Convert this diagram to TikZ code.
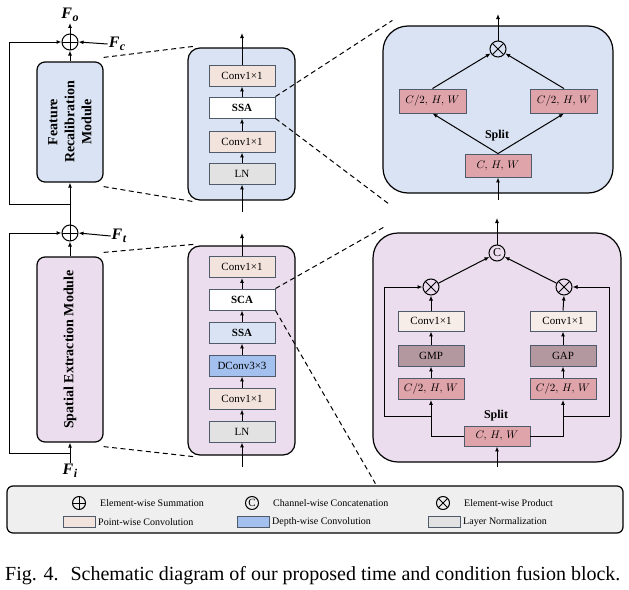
\documentclass[tikz,border=0pt]{standalone}
\usepackage{fontspec}
\setmainfont{Liberation Serif}
\usetikzlibrary{arrows.meta,calc}
\definecolor{topblue}{HTML}{DAE3F3}
\definecolor{lilac}{HTML}{EBDDED}
\definecolor{peach}{HTML}{F2E3DD}
\definecolor{peachl}{HTML}{F6ECE8}
\definecolor{lngray}{HTML}{E2E2E2}
\definecolor{dblue}{HTML}{A3C0EE}
\definecolor{redbox}{HTML}{DFA3AA}
\definecolor{mauve}{HTML}{B4989F}
\definecolor{slate}{HTML}{4F5B6B}
\definecolor{legfill}{HTML}{EFEFEF}
\tikzset{
  bigbox/.style={draw=black, line width=1.2pt, rounded corners=12pt, inner sep=0pt},
  inbox/.style={draw=slate, line width=0.9pt, minimum width=66pt, minimum height=21pt, inner sep=0pt, font=\fontsize{11}{12}\selectfont},
  bbold/.style={inbox, font=\fontsize{11}{12}\selectfont\bfseries},
  redb/.style={inbox, fill=redbox, font=\fontsize{10.5}{12}\selectfont},
  arr/.style={line width=1pt, -{Latex[length=5pt,width=4pt]}},
  ln/.style={line width=1pt},
  dashln/.style={line width=1pt, dash pattern=on 5pt off 3.5pt},
  opl/.style={circle, draw, line width=1pt, minimum size=16pt, inner sep=0pt,
    path picture={\draw[line width=1pt] (path picture bounding box.north) -- (path picture bounding box.south)
      (path picture bounding box.west) -- (path picture bounding box.east);}},
  otm/.style={circle, draw, line width=1pt, minimum size=16pt, inner sep=0pt,
    path picture={\draw[line width=1pt] ([shift={(45:8pt)}]path picture bounding box.center) -- ([shift={(225:8pt)}]path picture bounding box.center)
      ([shift={(135:8pt)}]path picture bounding box.center) -- ([shift={(315:8pt)}]path picture bounding box.center);}},
  cat/.style={circle, draw, line width=1pt, minimum size=16pt, inner sep=0pt, font=\fontsize{12}{12}\selectfont},
  flab/.style={font=\fontsize{16}{16}\selectfont\bfseries\itshape, inner sep=1pt},
  legt/.style={anchor=west, inner sep=0pt, font=\fontsize{10}{12}\selectfont},
  sw/.style={draw=slate, line width=0.9pt, minimum width=32pt, minimum height=11pt, inner sep=0pt},
}
\begin{document}
\begin{tikzpicture}[x=1pt,y=-1pt]
\useasboundingbox (0,0) rectangle (629,589);

% ---------------- left column ----------------
\node[flab] (fo) at (70,15) {F\kern0.5pt\raisebox{-3pt}{\fontsize{12}{12}\selectfont o}};
\node[opl] (o1) at (70,42) {};
\node[flab] (fc) at (117,44) {F\kern0.5pt\raisebox{-3pt}{\fontsize{12}{12}\selectfont c}};
\node[bigbox, rounded corners=8pt, fill=topblue, minimum width=66pt, minimum height=120pt] (frm) at (70,122) {};
\node[rotate=90, align=center, font=\fontsize{14}{17}\selectfont\bfseries] (frmt) at (70,122) {Feature\\Recalibration\\Module};
\node[opl] (o2) at (70,233) {};
\node[flab] (ft) at (119,236) {F\kern0.5pt\raisebox{-3pt}{\fontsize{12}{12}\selectfont t}};
\node[bigbox, rounded corners=8pt, fill=lilac, minimum width=66pt, minimum height=185pt] (sem) at (70,349.5) {};
\node[rotate=90, font=\fontsize{14}{17}\selectfont\bfseries] (semt) at (70,349.5) {Spatial Extraction Module};
\node[flab] (fi) at (70,471) {F\kern0.5pt\raisebox{-3pt}{\fontsize{12}{12}\selectfont i}};

\coordinate (j1) at (70,204);
\coordinate (l1) at (9,204);
\coordinate (j2) at (70,453);
\coordinate (l2) at (9,453);

\draw[arr] (frm.north) -- (o1.south);
\draw[arr] (o1.north) -- (fo.south);
\draw[arr] (fc.west) -- (o1.east);
\draw[arr] (o2.north) -- (frm.south);
\draw[arr] (j1) -- (l1) |- (o1.west);
\draw[arr] (sem.north) -- (o2.south);
\draw[arr] (ft.west) -- (o2.east);
\draw[arr] (fi.north) -- (sem.south);
\draw[arr] (j2) -- (l2) |- (o2.west);

% ---------------- middle top ----------------
\node[bigbox, fill=topblue, minimum width=107pt, minimum height=152pt] (mt) at (241.5,124) {};
\node[inbox, fill=peach] (t4) at (242,75.5) {Conv1×1};
\node[bbold, fill=white] (t3) at (242,107.5) {SSA};
\node[inbox, fill=peach] (t2) at (242,141.5) {Conv1×1};
\node[inbox, fill=lngray] (t1) at (242,173.5) {LN};
\coordinate (tin) at (242,212);
\coordinate (tout) at (242,33);
\draw[arr] (tin) -- (t1.south);
\draw[arr] (t1.north) -- (t2.south);
\draw[arr] (t2.north) -- (t3.south);
\draw[arr] (t3.north) -- (t4.south);
\draw[arr] (t4.north) -- (tout);

% ---------------- middle bottom ----------------
\node[bigbox, fill=lilac, minimum width=107pt, minimum height=209pt] (mb) at (241.5,350.5) {};
\node[inbox, fill=peach] (b6) at (242,267) {Conv1×1};
\node[bbold, fill=white] (b5) at (242,299.5) {SCA};
\node[bbold, fill=topblue] (b4) at (242,332.5) {SSA};
\node[inbox, fill=dblue] (b3) at (242,365.5) {DConv3×3};
\node[inbox, fill=peach] (b2) at (242,398.5) {Conv1×1};
\node[inbox, fill=lngray] (b1) at (242,431.5) {LN};
\coordinate (bin) at (242,467);
\coordinate (bout) at (242,233);
\draw[arr] (bin) -- (b1.south);
\draw[arr] (b1.north) -- (b2.south);
\draw[arr] (b2.north) -- (b3.south);
\draw[arr] (b3.north) -- (b4.south);
\draw[arr] (b4.north) -- (b5.south);
\draw[arr] (b5.north) -- (b6.south);
\draw[arr] (b6.north) -- (bout);

% ---------------- right top (SSA detail) ----------------
\node[bigbox, rounded corners=25pt, fill=topblue, minimum width=230pt, minimum height=167pt] (rt) at (498,109.5) {};
\node[otm] (m1) at (498,49) {};
\node[redb] (cl) at (432.5,101) [minimum height=24pt, minimum width=67pt] {$C/2,\,H,\,W$};
\node[redb] (cr) at (564,101) [minimum height=24pt, minimum width=67pt] {$C/2,\,H,\,W$};
\node[redb] (chw) at (498,165.5) [minimum height=23pt] {$C,\,H,\,W$};
\node[font=\fontsize{12}{12}\selectfont\bfseries] (sp1) at (497,136) {Split};
\coordinate (rtin) at (498,200);
\coordinate (rtout) at (498,14);
\draw[arr] (rtin) -- (chw.south);
\draw[arr] (chw.north) -- (cl.south);
\draw[arr] (chw.north) -- (cr.south);
\draw[arr] (cl.north) -- (m1);
\draw[arr] (cr.north) -- (m1);
\draw[arr] (m1.north) -- (rtout);

% ---------------- right bottom (SCA detail) ----------------
\node[bigbox, rounded corners=25pt, fill=lilac, minimum width=248pt, minimum height=229pt] (rb) at (497,347.5) {};
\node[cat] (c1) at (497,253) {C};
\node[otm] (ml) at (431,287) {};
\node[otm] (mr) at (564,287) {};
\node[inbox, fill=peachl] (cvl) at (431,321) [minimum height=20pt] {Conv1×1};
\node[inbox, fill=peachl] (cvr) at (563,321) [minimum height=20pt] {Conv1×1};
\node[inbox, fill=mauve] (gmp) at (431,355.5) {GMP};
\node[inbox, fill=mauve] (gap) at (563,355.5) {GAP};
\node[redb] (hl) at (431,389) {$C/2,\,H,\,W$};
\node[redb] (hr) at (563,389) {$C/2,\,H,\,W$};
\node[redb] (chw2) at (497,436) [minimum height=20pt] {$C,\,H,\,W$};
\node[font=\fontsize{12}{12}\selectfont\bfseries] (sp2) at (496,416) {Split};
\coordinate (rbin) at (497,467);
\coordinate (rbout) at (497,218);
\coordinate (bl) at (431,416);
\coordinate (bl2) at (384,416);
\coordinate (br) at (563,416);
\coordinate (br2) at (609,416);
\draw[arr] (rbin) -- (chw2.south);
\draw[arr] (chw2.west) -| (hl.south);
\draw[arr] (chw2.east) -| (hr.south);
\draw[arr] (bl) -- (bl2) |- (ml.west);
\draw[arr] (br) -- (br2) |- (mr.east);
\draw[arr] (hl.north) -- (gmp.south);
\draw[arr] (hr.north) -- (gap.south);
\draw[arr] (gmp.north) -- (cvl.south);
\draw[arr] (gap.north) -- (cvr.south);
\draw[arr] (cvl.north) -- (ml.south);
\draw[arr] (cvr.north) -- (mr.south);
\draw[arr] (ml) -- (c1);
\draw[arr] (mr) -- (c1);
\draw[arr] (c1.north) -- (rbout);

% ---------------- dashed zoom lines ----------------
\draw[dashln] ([yshift=4pt]frm.north east) -- ([xshift=6pt,yshift=1pt]mt.north west);
\draw[dashln] ([yshift=-4pt]frm.south east) -- ([xshift=6pt,yshift=-1pt]mt.south west);
\draw[dashln] ([yshift=4pt]sem.north east) -- ([xshift=6pt,yshift=1pt]mb.north west);
\draw[dashln] ([yshift=-4pt]sem.south east) -- ([xshift=6pt,yshift=-1pt]mb.south west);
\draw[dashln] (t3.north east) -- ([xshift=10pt,yshift=5pt]rt.north west);
\draw[dashln] (t3.south east) -- ([xshift=6pt,yshift=-10pt]rt.south west);
\draw[dashln] (b5.north east) -- ([xshift=11pt,yshift=5pt]rb.north west);
\draw[dashln] (b5.south east) -- ([xshift=3pt,yshift=-21pt]rb.south west);

% ---------------- legend ----------------
\node[draw=black, line width=1.2pt, rounded corners=6pt, fill=legfill, minimum width=616pt, minimum height=47pt, inner sep=0pt] (leg) at (315,509.5) {};
\node[opl, minimum size=13pt] (lg1) at (79,503) {};
\node[legt] (lt1) at (100,503) {Element-wise Summation};
\node[cat, minimum size=13pt, font=\fontsize{11}{11}\selectfont] (lg2) at (252,503) {C};
\node[legt] (lt2) at (273,503) {Channel-wise Concatenation};
\node[otm, minimum size=13pt, path picture={\draw[line width=1pt] ([shift={(45:6.5pt)}]path picture bounding box.center) -- ([shift={(225:6.5pt)}]path picture bounding box.center)
      ([shift={(135:6.5pt)}]path picture bounding box.center) -- ([shift={(315:6.5pt)}]path picture bounding box.center);}] (lg3) at (443,503) {};
\node[legt] (lt3) at (464,503) {Element-wise Product};
\node[sw, fill=peach] (ls1) at (79,522) {};
\node[legt] (lt4) at (98,522) {Point-wise Convolution};
\node[sw, fill=dblue] (ls2) at (253,522) {};
\node[legt] (lt5) at (272,522) {Depth-wise Convolution};
\node[sw, fill=lngray] (ls3) at (444,522) {};
\node[legt] (lt6) at (463,522) {Layer Normalization};

% ---------------- caption ----------------
\node[anchor=base west, inner sep=0pt, font=\fontsize{20}{22}\selectfont] (cap) at (5,580) {Fig. 4.\hspace{0.6em}Schematic diagram of our proposed time and condition fusion block.};
\end{tikzpicture}
\end{document}
